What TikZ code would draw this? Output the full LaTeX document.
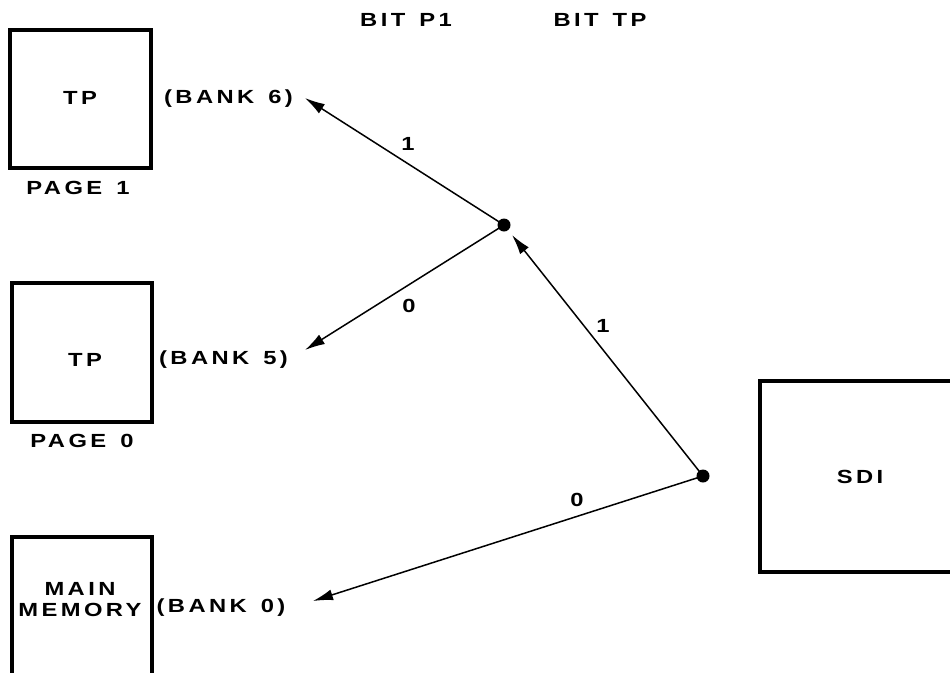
\documentclass[tikz,border=0pt]{standalone}
\usepackage{fontspec}
\newfontfamily\labfont{Liberation Sans}[FakeStretch=1.25,LetterSpace=18,WordSpace=1.4]
\usetikzlibrary{arrows.meta}
\begin{document}
\begin{tikzpicture}[x=1pt,y=-1pt,
  box/.style={draw,line width=3.5pt,inner sep=0pt},
  lab/.style={font=\labfont\bfseries\fontsize{19}{21}\selectfont, inner sep=0pt, align=center},
  arr/.style={line width=1.5pt,-{Latex[length=20pt,width=11pt]}},
  dot/.style={circle,fill,inner sep=0pt,minimum size=13pt}]
\useasboundingbox (0,0) rectangle (950,672);
\clip (0,0) rectangle (950,672);
% boxes
\node[box, minimum width=141pt, minimum height=138pt] (tp1) at (80.5,99) {};
\node[box, minimum width=140pt, minimum height=139pt] (tp0) at (82,352.5) {};
\node[box, minimum width=140pt, minimum height=163pt] (mm) at (82,618.5) {};
\node[box, minimum width=220pt, minimum height=191pt] (sdi) at (870,476.5) {};
% texts
\node[lab] (tp1t) at (80,98) {TP};
\node[lab] (pg1) at (78,188) {PAGE 1};
\node[lab] (b6) at (228.5,99) {(BANK 6)};
\node[lab] (tp0t) at (85,360) {TP};
\node[lab] (pg0) at (82,441) {PAGE 0};
\node[lab] (b5) at (223.5,360) {(BANK 5)};
\node[lab] (mmt) at (80,600) {MAIN\\MEMORY};
\node[lab] (b0) at (221,608) {(BANK 0)};
\node[lab] (bp1) at (406,20) {BIT P1};
\node[lab] (btp) at (600,20) {BIT TP};
\node[lab] (sdit) at (860,477) {SDI};
% junctions
\node[dot] (A) at (504,225) {};
\node[dot] (B) at (703,476) {};
\coordinate (t6) at (305,98);
\coordinate (t5) at (305,350);
\coordinate (tA) at (512,235);
\coordinate (t0) at (313,601);
% connectors
\draw[arr] (A.center) -- (t6);
\draw[arr] (A.center) -- (t5);
\draw[arr] (B.center) -- (tA);
\draw[arr] (B.center) -- (t0);
% labels
\node[lab] (l1a) at (408,144) {1};
\node[lab] (l0a) at (409,306) {0};
\node[lab] (l1b) at (603,326) {1};
\node[lab] (l0b) at (577,500) {0};
\end{tikzpicture}
\end{document}
